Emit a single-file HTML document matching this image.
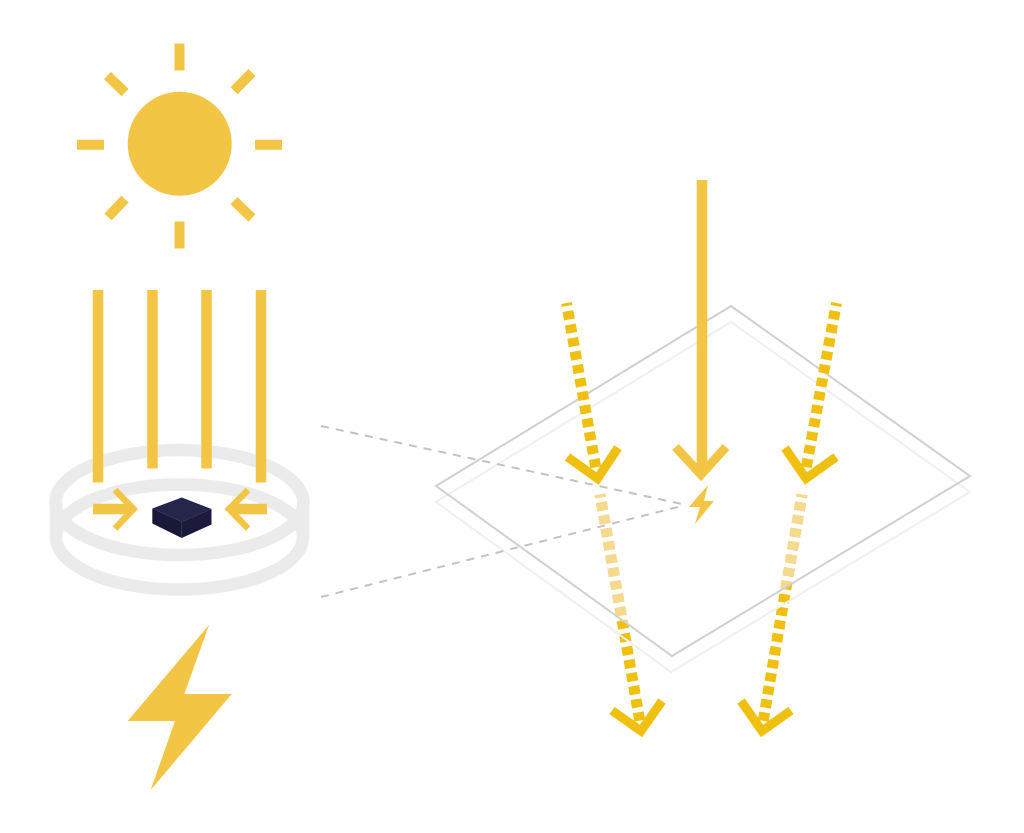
<!DOCTYPE html>
<html>
<head>
<meta charset="utf-8">
<style>html,body{margin:0;padding:0;background:#fff}svg{display:block}</style>
</head>
<body>
<svg width="1024" height="833" viewBox="0 0 1024 833" xmlns="http://www.w3.org/2000/svg">
<defs>
<clipPath id="plate"><polygon points="731,306 970,476 672,656 436,486"/></clipPath>
</defs>
<rect width="1024" height="833" fill="#fff"/>
<!-- sun -->
<circle cx="179.7" cy="143.8" r="52" fill="#f3c544"/>
<g stroke="#f3c544" stroke-width="10" fill="none">
<path d="M179.5 43.5V70.5M179.5 221.5V248.5M77 144.8H104M255 144.8H282"/>
<path d="M107.5 75.5L125 92.5M252 72.5L234 90.7M108 217L125 199M252 218L234 200.7"/>
</g>
<!-- rings -->
<g fill="none" stroke="#ebebeb" stroke-width="12.5">
<ellipse cx="179.5" cy="502.5" rx="124" ry="52.5"/>
<path d="M56 502V537C56 566 111 589.5 179.5 589.5C248 589.5 303 566 303 537V502"/>
<path d="M56 537C56 508 111 484.5 179.5 484.5C248 484.5 303 508 303 537"/>
</g>
<!-- bars -->
<g stroke="#f3c544" stroke-width="10.5" fill="none">
<path d="M98 290V482.5M152.5 290V468.5M206.5 290V468.5M261 290V482.5"/>
<path d="M93 509H130M267 509H231"/>
</g>
<g stroke="#f3c544" stroke-width="6.5" fill="none">
<path d="M115 490L133.5 509L115 528.5"/>
<path d="M248 490L229 509L248 528.5"/>
</g>
<!-- chip -->
<polygon points="152.3,508.5 181.7,521.7 181.7,538 152.3,523.5" fill="#191838"/>
<polygon points="211.5,509 181.7,521.7 181.7,538 211.5,524.5" fill="#1b1a3a"/>
<polygon points="152.3,508.5 181.7,497.5 211.5,509 181.7,521.7" fill="#26264d"/>
<!-- large bolt -->
<polygon points="209,625 127.7,721 175,721 150.7,790 231.7,694 184.3,694" fill="#f3c544"/>
<!-- lower dotted lines -->
<g stroke="#f0c010" stroke-width="11" fill="none" stroke-dasharray="8.5 4.83" stroke-dashoffset="5.5">
<path d="M600 494.5L640 722"/>
<path d="M802 494.5L763 722"/>
</g>
<g stroke="#f5d98e" stroke-width="11" fill="none" stroke-dasharray="8.5 4.83" stroke-dashoffset="5.5" clip-path="url(#plate)">
<path d="M600 494.5L640 722"/>
<path d="M802 494.5L763 722"/>
</g>
<!-- plate -->
<polygon points="731,322 970,492 671,672 436,502" fill="none" stroke="#f0f0f0" stroke-width="2"/>
<polygon points="731,306 970,476 672,656 436,486" fill="none" stroke="#d0d0d0" stroke-width="2"/>
<!-- leader lines -->
<g stroke="#c2c2c2" stroke-width="2" stroke-dasharray="8 7" fill="none">
<path d="M321 426L682 504"/>
<path d="M321 597L682 506"/>
</g>
<!-- central arrow -->
<g stroke="#f3c544" fill="none">
<path d="M702 180V472" stroke-width="10.5"/>
<path d="M675.5 447L701 474.5L726 447" stroke-width="9"/>
</g>
<polygon points="708,485 689,507 700,507 695,524 714,501 704,501" fill="#f3c544"/>
<!-- upper dotted -->
<g stroke="#f0c010" stroke-width="11" fill="none" stroke-dasharray="8.5 5.16" stroke-dashoffset="5.5">
<path d="M566.5 303L596 469"/>
<path d="M836.5 303L806 469"/>
</g>
<g stroke="#f0c010" stroke-width="9" fill="none">
<path d="M567.5 457L597.5 478.5L618 447.7"/>
<path d="M785 448L806 478.5L836 457"/>
<path d="M612 710.5L641 731L662 701"/>
<path d="M741 701L762 731L791 710.5"/>
</g>
</svg>
</body>
</html>
